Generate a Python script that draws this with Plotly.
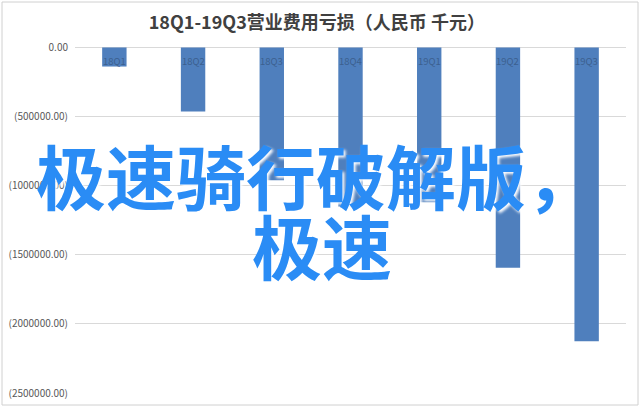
"""Recreation of the 18Q1-19Q3 operating expense loss bar chart."""

import plotly.graph_objects as go

# ── data ──
quarters = ["18Q1", "18Q2", "18Q3", "18Q4", "19Q1", "19Q2", "19Q3"]
expense_loss = [-138000, -464000, -960000, -1150000, -1120000, -1594000, -2125000]
y_ticks = [0, -500000, -1000000, -1500000, -2000000, -2500000]
y_tick_labels = ["0.00", "(500000.00)", "(1000000.00)", "(1500000.00)",
                 "(2000000.00)", "(2500000.00)"]

title_text = "18Q1-19Q3营业费用亏损（人民币 千元）"
overlay_lines = ["极速骑行破解版，", "极速"]

_BAR = "#4f7fbd"
_GRID = "#d9d9d9"
_TEXT = "#595959"
_FONT = "Noto Sans CJK SC"

# plot area in pixels (l, r, t, b); range top padded so the 0 gridline is kept
_Y_TOP = 25000
_L, _R, _T, _B = 75, 14, 44, 14
_W = 640 - _L - _R
_H = 407 - _T - _B

fig = go.Figure(go.Bar(
    x=quarters,
    y=expense_loss,
    marker_color=_BAR,
    marker_line_width=0,
))

fig.update_layout(
    width=640,
    height=407,
    margin=dict(l=_L, r=_R, t=_T, b=_B, autoexpand=False),
    paper_bgcolor="white",
    plot_bgcolor="white",
    showlegend=False,
    bargap=0.69,
    font=dict(family=_FONT, color=_TEXT, size=10),
    title=dict(
        text=title_text,
        x=0.495, xanchor="center",
        y=0.945, yanchor="middle",
        font=dict(family=_FONT, size=18, color="#404040", weight="bold"),
    ),
)

fig.update_xaxes(
    showticklabels=False,
    showgrid=False,
    showline=False,
    zeroline=False,
    ticks="",
    automargin=False,
)
fig.update_yaxes(
    range=[-2500000, _Y_TOP],
    tickvals=y_ticks,
    ticktext=y_tick_labels,
    tickfont=dict(size=10, color=_TEXT),
    ticklabelstandoff=6,
    gridcolor=_GRID,
    gridwidth=1,
    zeroline=False,
    showline=False,
    ticks="",
    automargin=False,
)

# category labels sit just under the zero line, inside the bars (Excel "next to axis")
for q in quarters:
    fig.add_annotation(
        x=q, y=0, text=q, showarrow=False,
        yanchor="top", yshift=-5,
        font=dict(family=_FONT, size=9.5, color="#3c5f8f"),
    )

# chart-area border
fig.add_shape(
    type="rect", xref="paper", yref="paper",
    x0=-(_L - 2) / _W, x1=1 + (_R - 2) / _W,
    y0=-(_B - 2) / _H, y1=1 + (_T - 2) / _H,
    line=dict(color="#d0d0d0", width=1), fillcolor="rgba(0,0,0,0)",
)

# overlaid caption text
fig.add_annotation(
    text=overlay_lines[0], xref="paper", yref="paper",
    x=(316 - _L) / _W, y=(407 - _B - 174) / _H,
    xanchor="center", yanchor="middle", showarrow=False,
    font=dict(family=_FONT, size=70, color="#2a8cf5", weight="bold",
              shadow="2px 2px 3px white"),
)
fig.add_annotation(
    text=overlay_lines[1], xref="paper", yref="paper",
    x=(322 - _L) / _W, y=(407 - _B - 244) / _H,
    xanchor="center", yanchor="middle", showarrow=False,
    font=dict(family=_FONT, size=70, color="#2a8cf5", weight="bold",
              shadow="2px 2px 3px white"),
)

fig.write_html(
    "out.html",
    config={"displayModeBar": False},
    post_script="document.body.style.margin = '0';",
)
